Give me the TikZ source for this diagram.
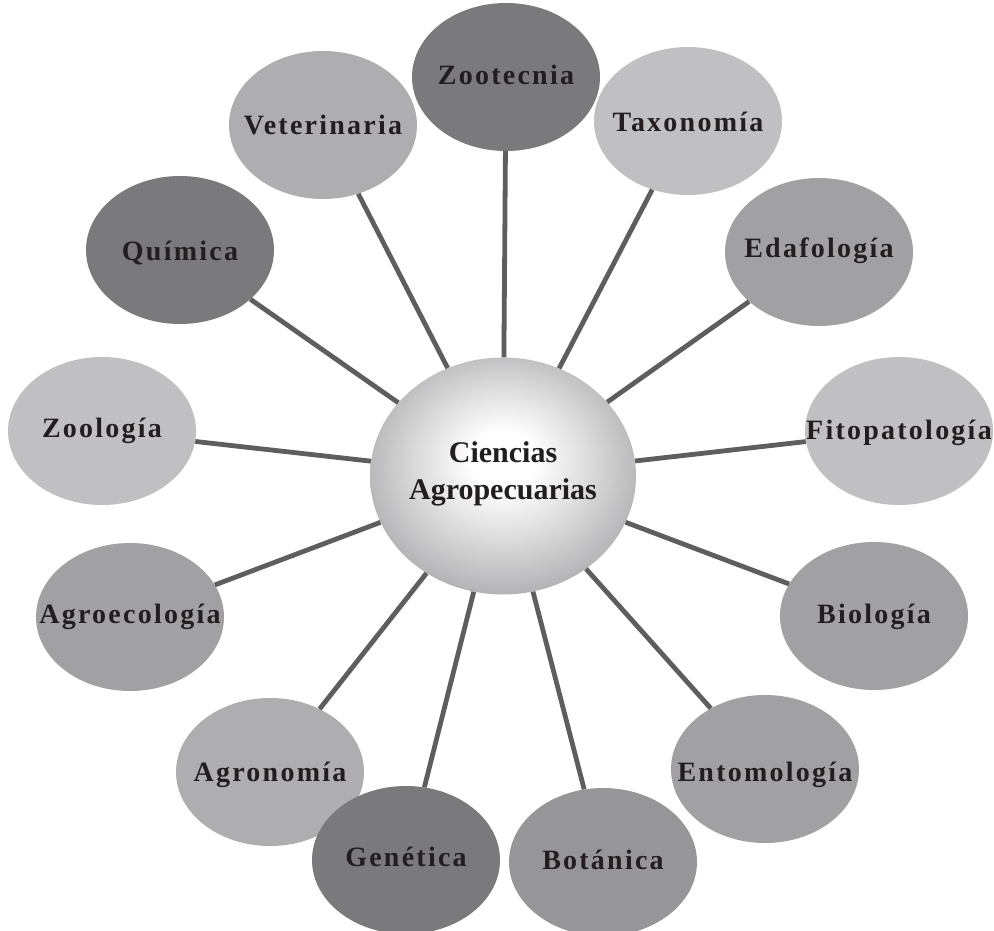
\documentclass[tikz,border=0pt]{standalone}
\usepackage{fontspec}
\setmainfont{Liberation Serif}
\newfontfamily\satfont[LetterSpace=8]{Liberation Serif}
\usetikzlibrary{shapes.geometric}

\definecolor{inkcol}{HTML}{221E1F}
\definecolor{linkcol}{HTML}{5E5D5F}
\definecolor{toneA}{HTML}{7A797B}
\definecolor{toneB}{HTML}{969597}
\definecolor{toneC}{HTML}{A1A0A2}
\definecolor{toneD}{HTML}{AEADAF}
\definecolor{toneE}{HTML}{C0BFC1}
\definecolor{rimcol}{HTML}{ABABAD}
\definecolor{midcol}{HTML}{DCDCDD}

% soft glow for the central disc, brightest slightly above its middle
\pgfdeclareradialshading{hubglow}{\pgfpoint{0bp}{4bp}}{%
  color(0bp)=(white); color(6bp)=(white); color(16bp)=(midcol);
  color(29bp)=(rimcol); color(50bp)=(rimcol)}

\tikzset{
  sat/.style={ellipse, draw=none, inner sep=0pt,
    minimum width=188pt, minimum height=148pt},
  satlabel/.style={anchor=base, inner sep=0pt, text=inkcol,
    font=\satfont\bfseries\fontsize{28}{32}\selectfont},
  hub/.style={ellipse, draw=none, inner sep=0pt,
    minimum width=266pt, minimum height=237pt, shading=hubglow},
  hublabel/.style={align=center, inner sep=0pt, text=inkcol,
    font=\bfseries\fontsize{30}{37}\selectfont},
  link/.style={draw=linkcol, line width=4.8pt}
}

\begin{document}
\begin{tikzpicture}[x=1pt, y=-1pt]
\useasboundingbox (0,0) rectangle (994,931);

% central hub
\node[hub] (hub) at (503,476) {};

% surrounding disciplines
\node[sat, fill=toneA] (zoot)  at (506,77)  {};
\node[sat, fill=toneE] (taxo)  at (688,121) {};
\node[sat, fill=toneD] (vete)  at (323,125) {};
\node[sat, fill=toneA] (quim)  at (180,250) {};
\node[sat, fill=toneC] (edaf)  at (819,252) {};
\node[sat, fill=toneE] (zool)  at (102,431) {};
\node[sat, fill=toneE] (fito)  at (899,431) {};
\node[sat, fill=toneC] (agroe) at (130,617) {};
\node[sat, fill=toneC] (biol)  at (874,616) {};
\node[sat, fill=toneD] (agron) at (270,772) {};
\node[sat, fill=toneC] (ento)  at (765,769) {};
\node[sat, fill=toneA] (gene)  at (406,860) {};
\node[sat, fill=toneB] (bota)  at (603,862) {};

% spokes from the hub to every discipline
\foreach \t in {zoot,taxo,vete,quim,edaf,zool,fito,agroe,biol,agron,ento,gene,bota}
  \draw[link] (hub) -- (\t);

% labels, baselines a little below each disc's centre
\node[satlabel] (zootT)  at ([yshift=-8pt]zoot.center)  {Zootecnia};
\node[satlabel] (taxoT)  at ([yshift=-11pt]taxo.center) {Taxonomía};
\node[satlabel] (veteT)  at ([yshift=-10pt]vete.center) {Veterinaria};
\node[satlabel] (quimT)  at ([yshift=-10pt]quim.center) {Química};
\node[satlabel] (edafT)  at ([yshift=-6pt]edaf.center)  {Edafología};
\node[satlabel] (zoolT)  at ([yshift=-6pt]zool.center)  {Zoología};
\node[satlabel] (fitoT)  at ([yshift=-8pt]fito.center)  {Fitopatología};
\node[satlabel] (agroeT) at ([yshift=-6pt]agroe.center) {Agroecología};
\node[satlabel] (biolT)  at ([yshift=-7pt]biol.center)  {Biología};
\node[satlabel] (agronT) at ([yshift=-9pt]agron.center) {Agronomía};
\node[satlabel] (entoT)  at ([yshift=-12pt]ento.center) {Entomología};
\node[satlabel] (geneT)  at ([yshift=-6pt]gene.center)  {Genética};
\node[satlabel] (botaT)  at ([yshift=-7pt]bota.center)  {Botánica};

\node[hublabel] (hubT) at ([yshift=2pt]hub.center) {Ciencias\\Agropecuarias};
\end{tikzpicture}
\end{document}
